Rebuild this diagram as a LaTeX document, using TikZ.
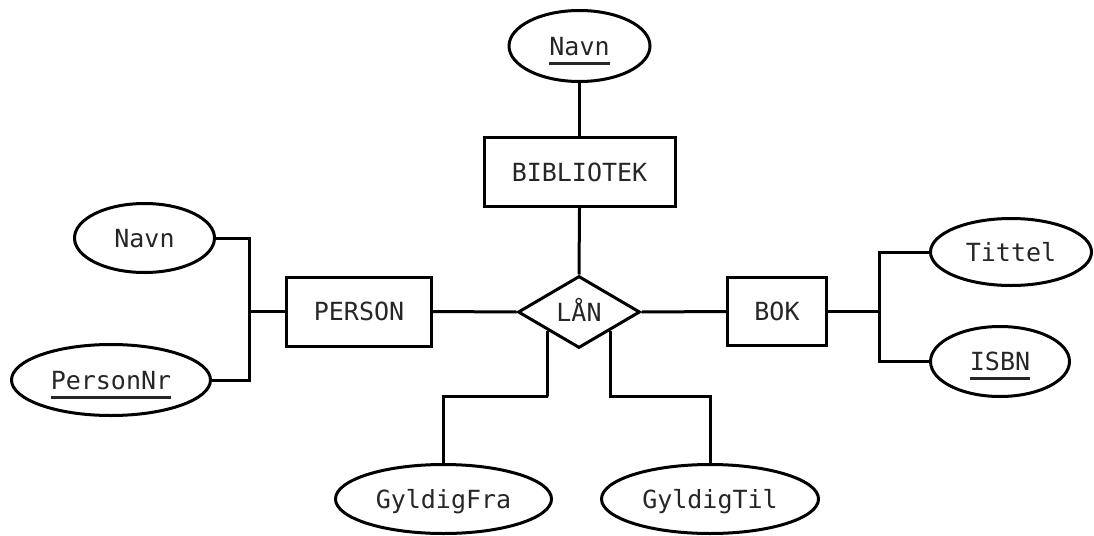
\documentclass[tikz,border=0pt]{standalone}
\usepackage{fontspec}
\setmainfont{DejaVu Sans Mono}
\usetikzlibrary{shapes.geometric}
\newcommand\keyattr[1]{{\setbox0\hbox{#1}\rlap{\smash{\raisebox{-9.5pt}{\rule{\wd0}{3pt}}}}\box0}}
\begin{document}
\begin{tikzpicture}[x=1pt,y=-1pt,
  every node/.style={font=\fontsize{25}{30}\selectfont, text=black!85, text height=18.2pt, text depth=0pt, inner sep=0pt},
  ent/.style={draw=black, line width=3pt, rectangle},
  attr/.style={draw=black, line width=3pt, ellipse},
  rel/.style={draw=black, line width=3pt, diamond},
  conn/.style={line width=3pt, line join=miter}]
\useasboundingbox (0,0) rectangle (1094,535);
\node[attr, minimum width=141pt, minimum height=71pt] (navnB) at (579.5,46) {\keyattr{Navn}};
\node[ent, minimum width=191pt, minimum height=69pt] (bib) at (579.5,172) {BIBLIOTEK};
\node[rel, minimum width=122pt, minimum height=72pt] (lan) at (579,312) {LÅN};
\node[ent, minimum width=145pt, minimum height=69pt] (person) at (359,311.5) {PERSON};
\node[attr, minimum width=140pt, minimum height=69pt] (navnP) at (144.5,238) {Navn};
\node[attr, minimum width=199pt, minimum height=71pt] (pnr) at (111,380) {\keyattr{PersonNr}};
\node[ent, minimum width=99pt, minimum height=68pt] (bok) at (777,311.5) {BOK};
\node[attr, minimum width=161pt, minimum height=67pt] (tittel) at (1011,252) {Tittel};
\node[attr, minimum width=139pt, minimum height=70pt] (isbn) at (1000,361.5) {\keyattr{ISBN}};
\node[attr, minimum width=216pt, minimum height=69pt] (fra) at (443.5,499) {GyldigFra};
\node[attr, minimum width=217pt, minimum height=69pt] (til) at (710,499) {GyldigTil};
\coordinate (jp) at (249,311.5);
\coordinate (jb) at (879,311.5);
\coordinate (jf) at (548,396);
\coordinate (jt) at (609,396);
\draw[conn] (navnB.south) -- (bib.north);
\draw[conn] (bib.south) -- (lan.north);
\draw[conn] (person.east) -- (lan.west);
\draw[conn] (lan.east) -- (bok.west);
\draw[conn] (navnP.east) -| (jp) |- (pnr.east);
\draw[conn] (jp) -- (person.west);
\draw[conn] (bok.east) -- (jb);
\draw[conn] (tittel.west) -| (jb) |- (isbn.west);
\draw[conn] (lan.south west) |- (jf) -| (fra.north);
\draw[conn] (lan.south east) |- (jt) -| (til.north);
\end{tikzpicture}
\end{document}
